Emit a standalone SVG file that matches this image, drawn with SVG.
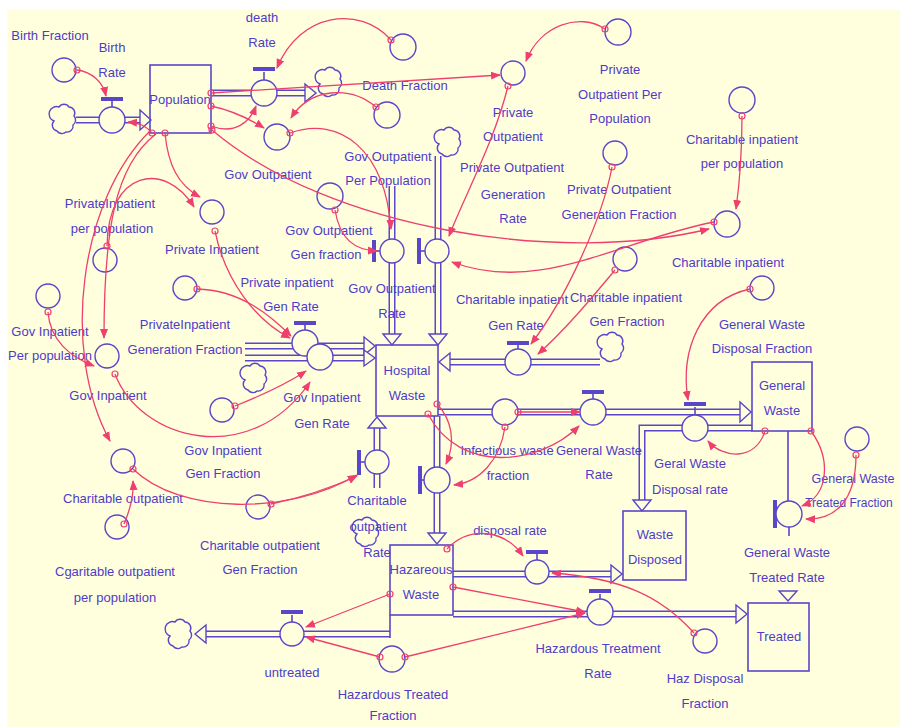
<svg xmlns="http://www.w3.org/2000/svg" width="900" height="727" viewBox="0 0 900 727">
<style>
.t{font-family:"Liberation Sans",Arial,sans-serif;font-size:13px;fill:#4e3cc8;text-anchor:middle}
.aux{fill:#ffffde;stroke:#5a46c8;stroke-width:1.4}
.stk{fill:none;stroke:#5a46c8;stroke-width:1.6}
.po{fill:none;stroke:#5a46c8;stroke-width:7}
.pi{fill:none;stroke:#ffffde;stroke-width:4}
.ln{fill:none;stroke:#5a46c8;stroke-width:1.6}
.bar{fill:#5a46c8}
.ha{fill:#ffffde;stroke:#5a46c8;stroke-width:1.4}
.lk{fill:none;stroke:#ee3f6e;stroke-width:1.3;marker-end:url(#ah)}
.o{fill:none;stroke:#ee3f6e;stroke-width:1.2}
.cl{fill:#ffffde;stroke:#5a46c8;stroke-width:1.4}
</style>
<defs>
<marker id="ah" viewBox="0 0 10 10" refX="9" refY="5" markerWidth="10" markerHeight="10" orient="auto" markerUnits="userSpaceOnUse"><path d="M0,1 L10,5 L0,9 z" fill="#ee3f6e"/></marker>
<path id="cloud" class="cl" d="M-5,-12 a6,6 0 0 1 10,0 a6,6 0 0 1 5,9 a6,6 0 0 1 -1,9 a6,6 0 0 1 -7,7 a6,6 0 0 1 -9,-1 a6,6 0 0 1 -3,-10 a6,6 0 0 1 5,-14 z"/>
</defs>
<rect width="900" height="727" fill="#ffffff"/>
<rect x="7" y="10" width="893" height="717" fill="#ffffde"/>

<!-- flows (pipes) -->
<g id="flows">
  <path class="po" d="M76,120 L140,120"/><path class="pi" d="M76,120 L141,120"/>
  <polygon class="ha" points="140,110 151,120 140,130"/>
  <path class="po" d="M211,93 L305,93"/><path class="pi" d="M211,93 L306,93"/>
  <polygon class="ha" points="305,84 316,93 305,102"/>
  <path class="po" d="M392,186 L392,334"/><path class="pi" d="M392,186 L392,335"/>
  <polygon class="ha" points="383,334 392,345 401,334"/>
  <path class="po" d="M438,156 L438,334"/><path class="pi" d="M438,156 L438,335"/>
  <polygon class="ha" points="429,334 438,345 447,334"/>
  <path class="po" d="M245,346 L364,346"/><path class="pi" d="M245,346 L365,346"/>
  <polygon class="ha" points="364,337 375,346 364,355"/>
  <path class="po" d="M245,358 L364,358"/><path class="pi" d="M245,358 L365,358"/>
  <polygon class="ha" points="364,350 375,358 364,366"/>
  <path class="po" d="M377,488 L377,428"/><path class="pi" d="M377,488 L377,427"/>
  <polygon class="ha" points="368,428 377,417 386,428"/>
  <path class="po" d="M600,362 L450,362"/><path class="pi" d="M600,362 L449,362"/>
  <polygon class="ha" points="450,353 439,362 450,371"/>
  <path class="po" d="M438,412 L740,412"/><path class="pi" d="M438,412 L741,412"/>
  <polygon class="ha" points="740,402 751,412 740,422"/>
  <path class="po" d="M752,428 L642,428 L642,500"/><path class="pi" d="M752,428 L642,428 L642,501"/>
  <polygon class="ha" points="633,500 642,511 651,500"/>
  <path class="ln" d="M788,431 L788,501"/>
  <path class="ln" d="M789,527 L789,536"/>
  <polygon class="ha" points="779,591 797,591 788,601"/>
  <path class="po" d="M437,416 L437,533"/><path class="pi" d="M437,416 L437,534"/>
  <polygon class="ha" points="428,533 437,544 446,533"/>
  <path class="po" d="M453,574 L611,574"/><path class="pi" d="M453,574 L612,574"/>
  <polygon class="ha" points="611,565 622,574 611,583"/>
  <path class="po" d="M453,614 L736,614"/><path class="pi" d="M453,614 L737,614"/>
  <polygon class="ha" points="736,605 747,614 736,623"/>
  <path class="po" d="M390,634 L206,634"/><path class="pi" d="M390,634 L205,634"/>
  <polygon class="ha" points="206,625 195,634 206,643"/>
</g>

<g id="clouds">
  <use href="#cloud" x="64" y="119"/>
  <use href="#cloud" x="330" y="82"/>
  <use href="#cloud" x="449" y="142"/>
  <use href="#cloud" x="255" y="378"/>
  <use href="#cloud" x="612" y="347"/>
  <use href="#cloud" x="367" y="532"/>
  <use href="#cloud" x="180" y="634"/>
</g>

<g id="population"><rect class="stk" x="150" y="65" width="61" height="68"/><text class="t" x="180" y="104">Population</text></g>
<g id="hospital-waste"><rect class="stk" x="376" y="345" width="62" height="71"/><text class="t" x="407" y="375">Hospital</text><text class="t" x="407" y="400">Waste</text></g>
<g id="general-waste"><rect class="stk" x="752" y="362" width="60" height="69"/><text class="t" x="782" y="390">General</text><text class="t" x="782" y="415">Waste</text></g>
<g id="waste-disposed"><rect class="stk" x="623" y="511" width="63" height="69"/><text class="t" x="655" y="539">Waste</text><text class="t" x="655" y="564">Disposed</text></g>
<g id="treated"><rect class="stk" x="748" y="603" width="61" height="68"/><text class="t" x="779" y="641">Treated</text></g>
<g id="hazareous-waste"><rect class="stk" x="390" y="545" width="63" height="70"/><path class="ln" d="M390,615 L390,638"/><text class="t" x="421" y="574">Hazareous</text><text class="t" x="421" y="599">Waste</text></g>

<g id="birth-rate"><path class="ln" d="M112,107 L112,101"/><rect class="bar" x="101" y="97" width="22" height="4"/><circle class="aux" cx="112" cy="120" r="13"/><text class="t" x="112" y="52">Birth</text><text class="t" x="112" y="77">Rate</text></g>
<g id="death-rate"><path class="ln" d="M264,80 L264,72"/><rect class="bar" x="253" y="67" width="22" height="4"/><circle class="aux" cx="264" cy="93" r="13"/><text class="t" x="262" y="22">death</text><text class="t" x="262" y="47">Rate</text></g>
<g id="gov-outpatient-rate"><path class="ln" d="M380,251 L375,251"/><rect class="bar" x="372" y="240" width="4" height="22"/><circle class="aux" cx="392" cy="251" r="12"/><text class="t" x="392" y="293">Gov Outpatient</text><text class="t" x="392" y="318">Rate</text></g>
<g id="private-outpatient-generation-rate"><path class="ln" d="M425,251 L420,251"/><rect class="bar" x="417" y="238" width="4" height="26"/><circle class="aux" cx="437" cy="251" r="12"/><text class="t" x="512" y="172">Private Outpatient</text><text class="t" x="513" y="199">Generation</text><text class="t" x="513" y="223">Rate</text></g>
<g id="private-inpatient-gen-rate"><path class="ln" d="M305,330 L305,325"/><rect class="bar" x="294" y="321" width="22" height="4"/><circle class="aux" cx="305" cy="343" r="13"/><text class="t" x="287" y="287">Private inpatient</text><text class="t" x="291" y="311">Gen Rate</text></g>
<g id="gov-inpatient-gen-rate"><circle class="aux" cx="320" cy="357" r="13"/><text class="t" x="322" y="402">Gov Inpatient</text><text class="t" x="322" y="428">Gen Rate</text></g>
<g id="charitable-outpatient-rate"><path class="ln" d="M365,462 L361,462"/><rect class="bar" x="357" y="450" width="4" height="25"/><circle class="aux" cx="377" cy="462" r="12"/><text class="t" x="377" y="505">Charitable</text><text class="t" x="378" y="531">outpatient</text><text class="t" x="377" y="557">Rate</text></g>
<g id="charitable-inpatient-gen-rate"><path class="ln" d="M518,349 L518,345"/><rect class="bar" x="507" y="341" width="22" height="4"/><circle class="aux" cx="518" cy="362" r="13"/><text class="t" x="512" y="304">Charitable inpatient</text><text class="t" x="516" y="330">Gen Rate</text></g>
<g id="general-waste-rate"><path class="ln" d="M593,399 L593,394"/><rect class="bar" x="582" y="390" width="22" height="4"/><circle class="aux" cx="593" cy="412" r="13"/><text class="t" x="599" y="455">General Waste</text><text class="t" x="599" y="479">Rate</text></g>
<g id="geral-waste-disposal-rate"><path class="ln" d="M695,415 L695,407"/><rect class="bar" x="684" y="402" width="22" height="4"/><circle class="aux" cx="695" cy="428" r="13"/><text class="t" x="690" y="468">Geral Waste</text><text class="t" x="690" y="494">Disposal rate</text></g>
<g id="general-waste-treated-rate"><path class="ln" d="M776,514 L780,514"/><rect class="bar" x="773" y="500" width="4" height="28"/><circle class="aux" cx="789" cy="514" r="13"/><text class="t" x="787" y="557">General Waste</text><text class="t" x="787" y="582">Treated Rate</text></g>
<g id="infectious-rate"><path class="ln" d="M425,480 L421,480"/><rect class="bar" x="418" y="466" width="4" height="28"/><circle class="aux" cx="437" cy="480" r="13"/></g>
<g id="disposal-rate"><path class="ln" d="M537,560 L537,554"/><rect class="bar" x="526" y="550" width="22" height="4"/><circle class="aux" cx="537" cy="572" r="12"/><text class="t" x="510" y="535">disposal rate</text></g>
<g id="hazardous-treatment-rate"><path class="ln" d="M600,599 L600,594"/><rect class="bar" x="589" y="589" width="22" height="4"/><circle class="aux" cx="600" cy="612" r="13"/><text class="t" x="598" y="653">Hazardous Treatment</text><text class="t" x="598" y="678">Rate</text></g>
<g id="untreated"><path class="ln" d="M292,622 L292,615"/><rect class="bar" x="281" y="610" width="22" height="4"/><circle class="aux" cx="292" cy="634" r="12"/><text class="t" x="292" y="677">untreated</text></g>

<g id="birth-fraction"><circle class="aux" cx="64" cy="70" r="12"/><text class="t" x="50" y="40">Birth Fraction</text></g>
<g id="death-fraction"><circle class="aux" cx="403" cy="47" r="13"/><text class="t" x="405" y="90">Death Fraction</text></g>
<g id="private-outpatient"><circle class="aux" cx="513" cy="73" r="12"/><text class="t" x="513" y="117">Private</text><text class="t" x="513" y="141">Outpatient</text></g>
<g id="private-outpatient-per-population"><circle class="aux" cx="618" cy="32" r="13"/><text class="t" x="620" y="74">Private</text><text class="t" x="620" y="99">Outpatient Per</text><text class="t" x="620" y="123">Population</text></g>
<g id="charitable-inpatient-per-population"><circle class="aux" cx="742" cy="100" r="13"/><text class="t" x="742" y="144">Charitable inpatient</text><text class="t" x="742" y="168">per population</text></g>
<g id="gov-outpatient"><circle class="aux" cx="277" cy="137" r="13"/><text class="t" x="268" y="179">Gov Outpatient</text></g>
<g id="gov-outpatient-per-population"><circle class="aux" cx="387" cy="115" r="13"/><text class="t" x="388" y="161">Gov Outpatient</text><text class="t" x="388" y="185">Per Population</text></g>
<g id="gov-outpatient-gen-fraction"><circle class="aux" cx="330" cy="196" r="13"/><text class="t" x="329" y="235">Gov Outpatient</text><text class="t" x="326" y="259">Gen fraction</text></g>
<g id="private-outpatient-generation-fraction"><circle class="aux" cx="615" cy="153" r="12"/><text class="t" x="619" y="194">Private Outpatient</text><text class="t" x="619" y="219">Generation Fraction</text></g>
<g id="charitable-inpatient"><circle class="aux" cx="727" cy="224" r="13"/><text class="t" x="728" y="267">Charitable inpatient</text></g>
<g id="charitable-inpatient-gen-fraction"><circle class="aux" cx="625" cy="259" r="12"/><text class="t" x="626" y="302">Charitable inpatient</text><text class="t" x="627" y="326">Gen Fraction</text></g>
<g id="general-waste-disposal-fraction"><circle class="aux" cx="762" cy="288" r="12"/><text class="t" x="762" y="329">General Waste</text><text class="t" x="762" y="353">Disposal Fraction</text></g>
<g id="privateinpatient-per-population"><circle class="aux" cx="105" cy="260" r="12"/><text class="t" x="110" y="208">PrivateInpatient</text><text class="t" x="112" y="233">per population</text></g>
<g id="private-inpatient"><circle class="aux" cx="212" cy="212" r="12"/><text class="t" x="212" y="254">Private Inpatient</text></g>
<g id="privateinpatient-generation-fraction"><circle class="aux" cx="185" cy="288" r="12"/><text class="t" x="185" y="329">PrivateInpatient</text><text class="t" x="185" y="354">Generation Fraction</text></g>
<g id="gov-inpatient-per-population"><circle class="aux" cx="48" cy="296" r="12"/><text class="t" x="50" y="336">Gov Inpatient</text><text class="t" x="50" y="360">Per population</text></g>
<g id="gov-inpatient"><circle class="aux" cx="107" cy="356" r="12"/><text class="t" x="108" y="400">Gov Inpatient</text></g>
<g id="gov-inpatient-gen-fraction"><circle class="aux" cx="222" cy="410" r="12"/><text class="t" x="223" y="455">Gov Inpatient</text><text class="t" x="223" y="478">Gen Fraction</text></g>
<g id="charitable-outpatient"><circle class="aux" cx="123" cy="461" r="12"/><text class="t" x="123" y="503">Charitable outpatient</text></g>
<g id="cgaritable-outpatient-per-population"><circle class="aux" cx="117" cy="527" r="12"/><text class="t" x="115" y="576">Cgaritable outpatient</text><text class="t" x="115" y="602">per population</text></g>
<g id="charitable-outpatient-gen-fraction"><circle class="aux" cx="258" cy="507" r="12"/><text class="t" x="260" y="550">Charitable outpatient</text><text class="t" x="260" y="574">Gen Fraction</text></g>
<g id="infectious-waste-fraction"><circle class="aux" cx="505" cy="412" r="13"/><text class="t" x="507" y="455">Infectious waste</text><text class="t" x="508" y="480">fraction</text></g>
<g id="general-waste-treated-fraction"><circle class="aux" cx="857" cy="439" r="12"/><text class="t" x="853" y="483" style="font-size:12.5px">General Waste</text><text class="t" x="849" y="507" style="font-size:12px">Treated Fraction</text></g>
<g id="haz-disposal-fraction"><circle class="aux" cx="705" cy="641" r="12"/><text class="t" x="705" y="683">Haz Disposal</text><text class="t" x="705" y="708">Fraction</text></g>
<g id="hazardous-treated-fraction"><circle class="aux" cx="392" cy="659" r="13"/><text class="t" x="393" y="699">Hazardous Treated</text><text class="t" x="393" y="720">Fraction</text></g>

<g id="links">
  <path class="lk" d="M77,70 C92,72 103,82 106,96"/>
  <path class="lk" d="M152,133 C146,126 140,123 128,122"/>
  <path class="lk" d="M391,40 C360,5 300,12 277,68"/>
  <path class="lk" d="M211,126 C235,135 250,122 256,106"/>
  <path class="lk" d="M211,93 L500,75"/>
  <path class="lk" d="M211,106 C230,110 248,118 264,128"/>
  <path class="lk" d="M605,29 C580,12 540,25 526,61"/>
  <path class="lk" d="M376,107 C350,85 310,88 291,118"/>
  <path class="lk" d="M290,133 C340,115 385,150 391,229"/>
  <path class="lk" d="M335,210 C340,240 355,250 377,251"/>
  <path class="lk" d="M508,86 C495,140 465,195 449,236"/>
  <path class="lk" d="M212,130 C330,230 560,265 709,229"/>
  <path class="lk" d="M714,222 C620,240 540,295 452,262"/>
  <path class="lk" d="M612,167 C602,220 565,300 531,344"/>
  <path class="lk" d="M615,270 C590,300 565,330 538,354"/>
  <path class="lk" d="M742,116 C742,150 740,180 736,209"/>
  <path class="lk" d="M150,131 C80,200 60,350 110,441"/>
  <path class="lk" d="M156,134 C115,165 104,230 104,338"/>
  <path class="lk" d="M107,246 C108,170 165,160 194,207"/>
  <path class="lk" d="M165,133 C168,165 178,185 200,197"/>
  <path class="lk" d="M215,231 C225,280 255,320 290,338"/>
  <path class="lk" d="M197,289 C240,290 270,315 291,336"/>
  <path class="lk" d="M48,312 C50,340 70,357 94,366"/>
  <path class="lk" d="M115,374 C140,440 250,470 310,382"/>
  <path class="lk" d="M235,406 C260,396 285,385 306,371"/>
  <path class="lk" d="M133,469 C180,515 290,515 357,475"/>
  <path class="lk" d="M271,504 C310,496 335,486 357,476"/>
  <path class="lk" d="M124,524 C130,510 134,496 133,481"/>
  <path class="lk" d="M437,404 C452,420 456,442 446,464"/>
  <path class="lk" d="M505,427 C500,460 480,482 454,485"/>
  <path class="lk" d="M428,414 C460,475 540,465 579,426"/>
  <path class="lk" d="M518,412 L580,412"/>
  <path class="lk" d="M750,289 C700,300 680,350 688,400"/>
  <path class="lk" d="M765,431 C755,462 722,458 708,441"/>
  <path class="lk" d="M811,431 C832,460 828,496 802,506"/>
  <path class="lk" d="M856,455 C856,500 836,520 806,519"/>
  <path class="lk" d="M447,549 C470,525 505,530 523,556"/>
  <path class="lk" d="M694,633 C660,595 620,578 552,573"/>
  <path class="lk" d="M453,587 L585,612"/>
  <path class="lk" d="M405,657 L585,613"/>
  <path class="lk" d="M390,594 L306,627"/>
  <path class="lk" d="M380,657 L306,637"/>
  <g class="o">
    <circle cx="77" cy="70" r="3"/><circle cx="152" cy="133" r="3"/><circle cx="391" cy="40" r="3"/>
    <circle cx="211" cy="126" r="3"/><circle cx="211" cy="93" r="3"/><circle cx="211" cy="106" r="3"/>
    <circle cx="605" cy="29" r="3"/><circle cx="376" cy="107" r="3"/><circle cx="290" cy="133" r="3"/>
    <circle cx="335" cy="210" r="3"/><circle cx="508" cy="86" r="3"/><circle cx="212" cy="130" r="3"/>
    <circle cx="714" cy="222" r="3"/><circle cx="612" cy="167" r="3"/><circle cx="615" cy="270" r="3"/>
    <circle cx="742" cy="116" r="3"/><circle cx="165" cy="133" r="3"/><circle cx="107" cy="246" r="3"/>
    <circle cx="215" cy="231" r="3"/><circle cx="197" cy="289" r="3"/><circle cx="48" cy="312" r="3"/>
    <circle cx="115" cy="374" r="3"/><circle cx="235" cy="406" r="3"/><circle cx="133" cy="469" r="3"/>
    <circle cx="271" cy="504" r="3"/><circle cx="124" cy="524" r="3"/><circle cx="437" cy="404" r="3"/>
    <circle cx="505" cy="427" r="3"/><circle cx="428" cy="414" r="3"/><circle cx="518" cy="412" r="3"/>
    <circle cx="750" cy="289" r="3"/><circle cx="765" cy="431" r="3"/><circle cx="811" cy="431" r="3"/>
    <circle cx="856" cy="455" r="3"/><circle cx="447" cy="549" r="3"/><circle cx="694" cy="633" r="3"/>
    <circle cx="453" cy="587" r="3"/><circle cx="405" cy="657" r="3"/><circle cx="390" cy="594" r="3"/>
    <circle cx="380" cy="657" r="3"/>
  </g>
</g>
</svg>
